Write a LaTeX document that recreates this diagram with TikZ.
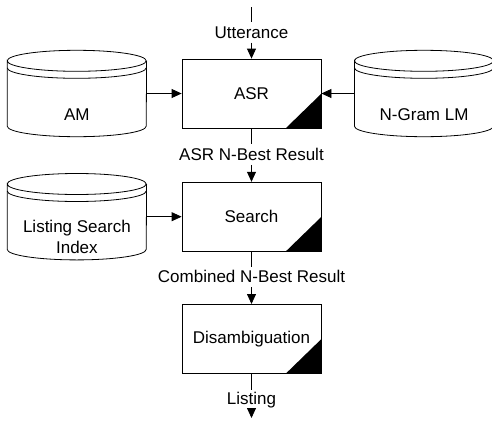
\documentclass[tikz,border=0pt]{standalone}
\usepackage{fontspec}
\setmainfont{Liberation Sans}
\usetikzlibrary{arrows.meta,positioning}

\begin{document}
\begin{tikzpicture}[
  x=1pt, y=1pt,
  every node/.style={font=\fontsize{17}{21}\selectfont},
  proc/.style={rectangle, draw, line width=0.8pt, minimum width=139pt,
               minimum height=69pt, align=center,
               path picture={\fill (path picture bounding box.south east)
                 -- ++(-35pt,0pt) -- ++(35pt,34pt) -- cycle;}},
  db/.style={rectangle, inner sep=0pt, minimum width=139pt, minimum height=86pt},
  dbtext/.style={yshift=-21pt, align=center},
  flow/.style={inner xsep=2pt, inner ysep=4pt, text height=12pt, text depth=0pt},
  wire/.style={line width=0.8pt},
  arr/.style={wire, -{Triangle[length=10pt, width=9pt]}},
]
\useasboundingbox (0,0) rectangle (492,-423);

% processing chain
\node[proc] (asr) at (251.5,-93.5) {ASR};
\node[flow, above=16pt of asr] (utt) {Utterance};
\coordinate (in) at (251.5,-7);
\node[flow, below=16pt of asr] (asrres) {ASR N-Best Result};
\node[proc, below=17pt of asrres] (search) {Search};
\node[flow, below=15pt of search] (combres) {Combined N-Best Result};
\node[proc, below=17pt of combres] (disamb) {Disambiguation};
\node[flow, text depth=4pt, inner ysep=2pt, below=16pt of disamb] (lst) {Listing};
\coordinate (out) at (251.5,-418);

% data stores
\node[db, left=35pt of asr, label={[dbtext]center:AM}] (am) {};
\node[db, right=33pt of asr, label={[dbtext]center:N-Gram LM}] (lm) {};
\node[db, left=35pt of search,
      label={[dbtext, yshift=0.5pt]center:Listing Search\\Index}] (idx) {};

\foreach \n in {am,lm,idx}{
  \draw[wire] ([yshift=-10.5pt]\n.north west)
      arc[start angle=180, end angle=-180, x radius=69.5pt, y radius=10.5pt]
      -- ([yshift=10.5pt]\n.south west)
      arc[start angle=180, end angle=360, x radius=69.5pt, y radius=10.5pt]
      -- ([yshift=-10.5pt]\n.north east);
  \draw[wire] ([yshift=-17.5pt]\n.north west)
      arc[start angle=180, end angle=360, x radius=69.5pt, y radius=10.5pt];
}

% connectors
\draw[wire] (in) -- (utt);
\draw[arr] (utt) -- (asr);
\draw[arr] (am) -- (asr);
\draw[arr] (lm) -- (asr);
\draw[wire] (asr) -- (asrres);
\draw[arr] (asrres) -- (search);
\draw[arr] (idx) -- (search);
\draw[wire] (search) -- (combres);
\draw[arr] (combres) -- (disamb);
\draw[wire] (disamb) -- (lst);
\draw[arr] (lst) -- (out);

\end{tikzpicture}
\end{document}
